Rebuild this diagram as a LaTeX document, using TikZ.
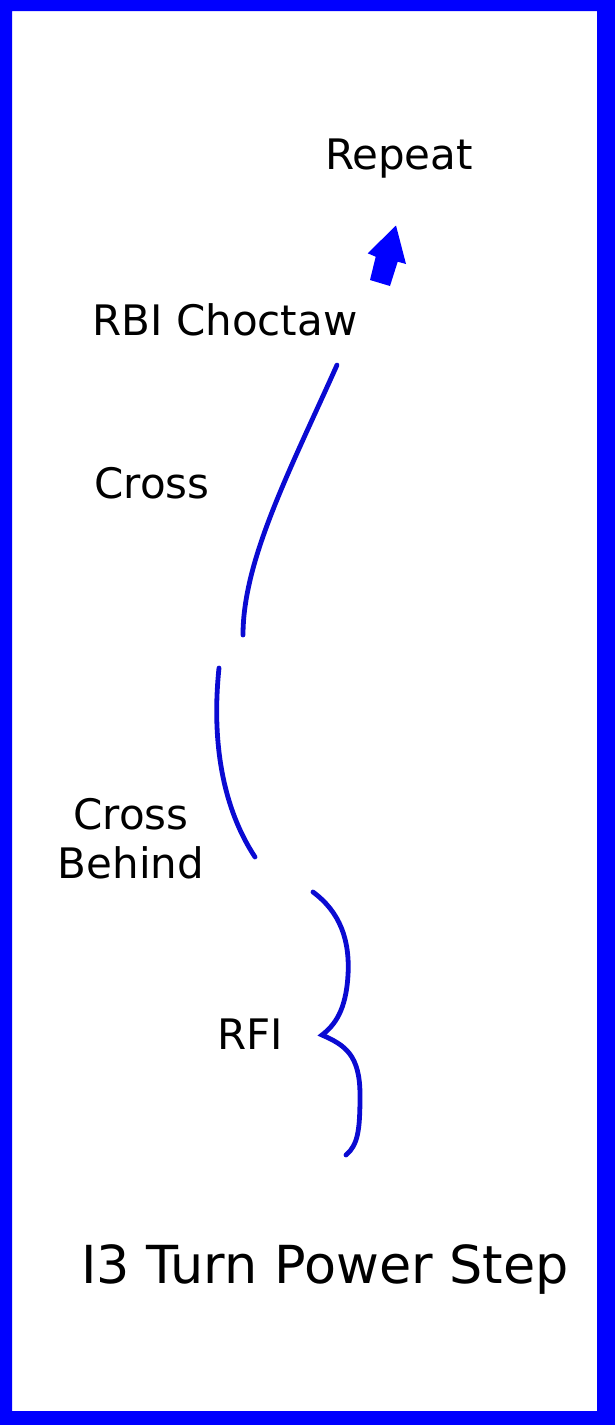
\documentclass[tikz,border=0pt]{standalone}
\usepackage{fontspec}
\setmainfont{DejaVu Sans}
\usetikzlibrary{positioning}
\definecolor{frameblue}{RGB}{0,0,255}
\definecolor{pathblue}{RGB}{10,10,210}
\tikzstyle{steplabel} = [inner sep=0pt, font=\fontsize{21}{24.5}\selectfont, align=center, text=black]
\tikzstyle{titlelabel} = [inner sep=0pt, font=\fontsize{26.2}{30}\selectfont, text=black]
\tikzstyle{footpath} = [draw=pathblue, line width=2.4pt, line cap=round]

\begin{document}
\begin{tikzpicture}[x=0.5pt, y=-0.5pt]
        \useasboundingbox (0,0) rectangle (615,1425);
        % frame
        \fill[frameblue, even odd rule] (0,0) rectangle (615,1425) (12,11) rectangle (597,1411);

        % labels
        \node (repeat) [steplabel, anchor=base] at (399,169) {Repeat};
        \node (rbi) [steplabel, anchor=base] at (225,335) {RBI Choctaw};
        \node (cross) [steplabel, anchor=base] at (152,498) {Cross};
        \node (behind) [steplabel] at (131,839) {Cross\\Behind};
        \node (rfi) [steplabel, anchor=base] at (250,1049) {RFI};
        \node (title) [titlelabel, anchor=base] at (325,1283) {I3 Turn Power Step};

        % tracing
        \coordinate (crossstart) at (337,365);
        \coordinate (crossend) at (243,635);
        \coordinate (behindstart) at (219,668);
        \coordinate (behindend) at (255,857);
        \coordinate (rfistart) at (313,892);
        \coordinate (rfipoint) at (322,1035);
        \coordinate (rfiend) at (346,1155);
        \draw [footpath] (crossstart) .. controls (290,470) and (243,560) .. (crossend);
        \draw [footpath] (behindstart) .. controls (211,745) and (224,810) .. (behindend);
        \draw [footpath] (rfistart) .. controls (340,912) and (350,940) .. (348,975)
                .. controls (346,1010) and (335,1025) .. (rfipoint)
                .. controls (345,1045) and (360,1055) .. (360,1095)
                .. controls (360,1130) and (358,1145) .. (rfiend);

        % repeat arrow
        \fill[frameblue] (396,225.5) -- (406,264) -- (397.7,261.7) -- (390,286)
                -- (370,280) -- (375.7,256.7) -- (367.7,253.3) -- cycle;
    \end{tikzpicture}
\end{document}
